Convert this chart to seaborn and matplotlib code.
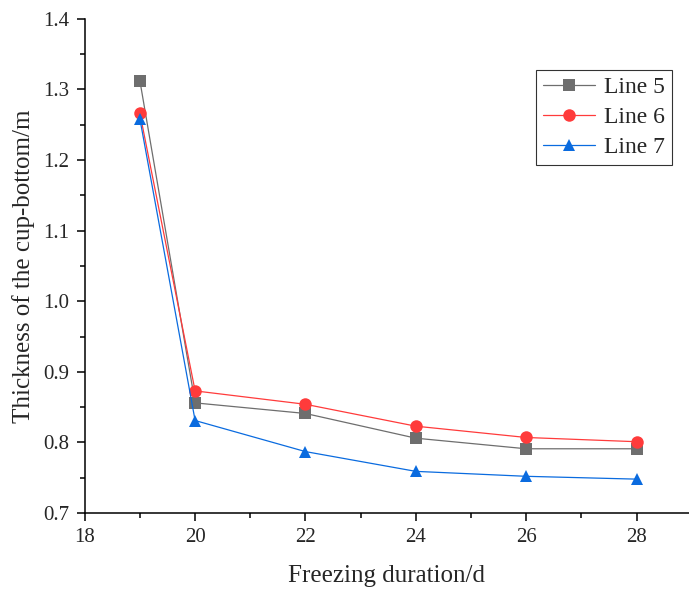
import pandas as pd
import seaborn as sns
import matplotlib.pyplot as plt
from matplotlib.ticker import MultipleLocator

# freezing duration (d) and cup-bottom thickness (m)
days = [19, 20, 22, 24, 26, 28]
line5 = [1.312, 0.856, 0.841, 0.806, 0.791, 0.791]
line6 = [1.266, 0.873, 0.854, 0.823, 0.807, 0.801]
line7 = [1.258, 0.831, 0.787, 0.759, 0.752, 0.748]
names = ['Line 5', 'Line 6', 'Line 7']

df = pd.concat([
    pd.DataFrame({'day': days, 'thick': vals, 'line': n})
    for n, vals in zip(names, [line5, line6, line7])
])

sns.set_style('ticks')
plt.rcParams['font.family'] = ['Liberation Serif', 'DejaVu Serif']

palette = {'Line 5': '#6e6e6e', 'Line 6': '#ff3b3b', 'Line 7': '#0a6bdf'}
markers = {'Line 5': 's', 'Line 6': 'o', 'Line 7': '^'}

fig = plt.figure(figsize=(6.89, 5.89), dpi=100)
ax = fig.add_axes([0.123, 0.129, 0.877, 0.839])

sns.lineplot(data=df, x='day', y='thick', hue='line', style='line',
             palette=palette, markers=markers, dashes=False,
             linewidth=0.9, markersize=9, markeredgewidth=0, ax=ax)

ax.set_xlim(18, 28.95)
ax.set_ylim(0.7, 1.4)
ax.xaxis.set_major_locator(MultipleLocator(2))
ax.xaxis.set_minor_locator(MultipleLocator(1))
ax.yaxis.set_major_locator(MultipleLocator(0.1))
ax.yaxis.set_minor_locator(MultipleLocator(0.05))
ax.yaxis.set_major_formatter(plt.FormatStrFormatter('%.1f'))
ax.tick_params(which='major', direction='out', length=6, width=1.1, labelsize=15,
               color='black', pad=5)
ax.tick_params(which='minor', direction='out', length=3.5, width=1.1, color='black')
for s in ['top', 'right']:
    ax.spines[s].set_visible(False)
for s in ['left', 'bottom']:
    ax.spines[s].set_linewidth(1.1)
    ax.spines[s].set_color('black')

ax.set_xlabel('Freezing duration/d', fontsize=18, labelpad=13)
ax.set_ylabel('Thickness of the cup-bottom/m', fontsize=18, labelpad=6)

leg = ax.legend(loc='upper right', bbox_to_anchor=(0.972, 0.897), fontsize=17,
                frameon=True, fancybox=False, edgecolor='black',
                handlelength=2.2, borderpad=0.3, labelspacing=0.35, handletextpad=0.4,
                borderaxespad=0)
leg.get_frame().set_linewidth(0.8)

fig.savefig('out.png', dpi=100)
